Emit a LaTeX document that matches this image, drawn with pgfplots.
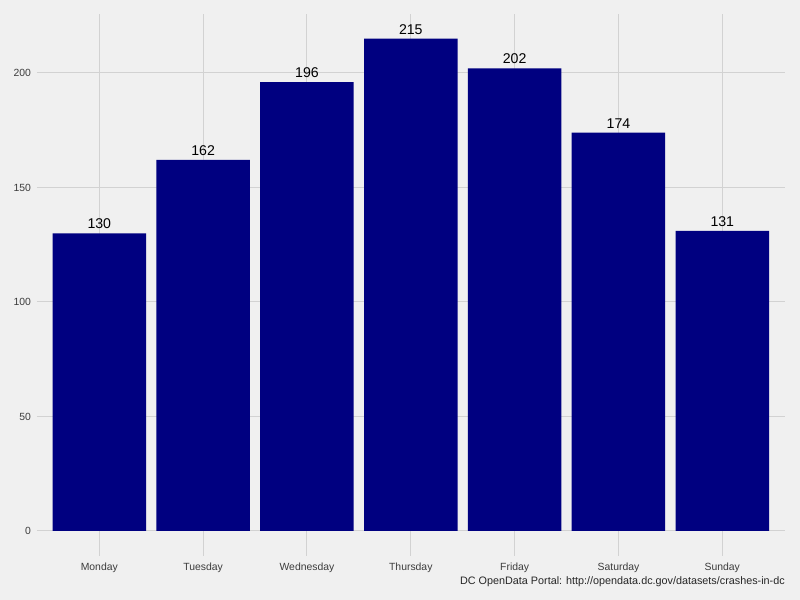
\documentclass[border=0pt]{standalone}
\usepackage{pgfplots}
\pgfplotsset{compat=1.18}
\usepackage{fontspec}
\setmainfont{Liberation Sans}
\definecolor{bg}{HTML}{F0F0F0}
\definecolor{gridc}{HTML}{D2D2D2}
\definecolor{navyc}{HTML}{000080}
\definecolor{tickc}{HTML}{3C3C3C}
\begin{document}
\begin{tikzpicture}[x=0.75pt,y=0.75pt]
\fill[bg] (0,0) rectangle (800,600);
\begin{axis}[
  at={(27.75pt,33.3pt)}, anchor=south west,
  scale only axis, width=560.7pt, height=406.2pt,
  xmin=0.4, xmax=7.6, ymin=-10.75, ymax=225.75,
  ybar, bar width=0.9, bar shift=0pt,
  xtick={1,2,3,4,5,6,7},
  xticklabels={Monday,Tuesday,Wednesday,Thursday,Friday,Saturday,Sunday},
  ytick={0,50,100,150,200},
  grid=major, major grid style={gridc, line width=0.75pt},
  axis line style={draw=none}, major tick length=0pt,
  tick label style={font=\fontsize{7.8}{9}\selectfont, text=tickc},
  yticklabel style={xshift=-1pt},
  xticklabel style={yshift=-2pt},
  /pgf/number format/assume math mode=true,
  nodes near coords,
  every node near coord/.append style={font=\fontsize{10.6}{12}\selectfont, text=black, anchor=south, inner sep=1pt, yshift=2pt},
  clip=false,
]
\addplot[fill=navyc, draw=none] coordinates {(1,130) (2,162) (3,196) (4,215) (5,202) (6,174) (7,131)};
\end{axis}
\node[anchor=base east, inner sep=0pt, font=\fontsize{8.1}{10}\selectfont, text=black!85] at (785,16) {DC OpenData Portal: http://opendata.dc.gov/datasets/crashes-in-dc};
\end{tikzpicture}
\end{document}
